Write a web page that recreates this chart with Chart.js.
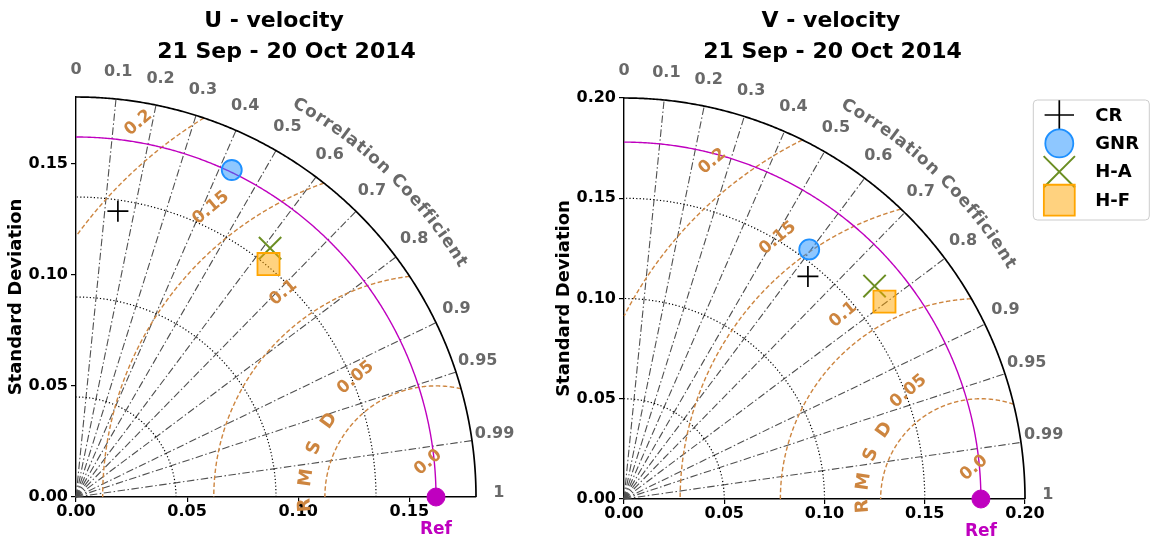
<!DOCTYPE html>
<html>
<head>
<meta charset="utf-8">
<script src="https://cdn.jsdelivr.net/npm/chart.js@4.4.1/dist/chart.umd.min.js"></script>
<style>
  html, body { margin: 0; padding: 0; background: #ffffff; width: 1151px; height: 542px; overflow: hidden; }
  canvas { position: absolute; top: 0; }
  #uChart { left: 0; }
  #vChart { left: 548px; }
</style>
</head>
<body>
<canvas id="uChart" width="548" height="542"></canvas>
<canvas id="vChart" width="603" height="542"></canvas>
<script>
// ---- data -------------------------------------------------------------
const modelNames = ['CR', 'GNR', 'H-A', 'H-F'];

// U velocity: standard deviation and correlation of each model against the reference
const uStd  = [0.130, 0.163, 0.142, 0.136];
const uCorr = [0.145, 0.430, 0.615, 0.637];
const uRefStd = 0.162;
const uStdMax = 0.18;
const uAxisTicks = [0.00, 0.05, 0.10, 0.15];
const uStdArcs = [0.045, 0.09, 0.135];

// V velocity
const vStd  = [0.144, 0.155, 0.164, 0.163];
const vCorr = [0.637, 0.596, 0.762, 0.797];
const vRefStd = 0.178;
const vStdMax = 0.20;
const vAxisTicks = [0.00, 0.05, 0.10, 0.15, 0.20];
const vStdArcs = [0.05, 0.10, 0.15];

// shared polar grid
const corrTicks = [0, 0.1, 0.2, 0.3, 0.4, 0.5, 0.6, 0.7, 0.8, 0.9, 0.95, 0.99, 1];
const corrRays  = [0.1, 0.2, 0.3, 0.4, 0.5, 0.6, 0.7, 0.8, 0.9, 0.95, 0.99];
const rmsdLevels = [0, 0.05, 0.10, 0.15, 0.20];

// ---- styles -----------------------------------------------------------
const FONT = "'DejaVu Sans', 'Liberation Sans', sans-serif";
Chart.defaults.font.family = FONT;

const markerStyles = {
  'CR':  { pointStyle: 'cross',    radius: 10.5, border: '#000000', fill: 'rgba(0,0,0,0)',        width: 1.7 },
  'GNR': { pointStyle: 'circle',   radius: 10,   border: '#1e90ff', fill: 'rgba(30,144,255,0.5)', width: 1.8 },
  'H-A': { pointStyle: 'crossRot', radius: 15.8, border: '#6b8e23', fill: 'rgba(0,0,0,0)',        width: 2 },
  'H-F': { pointStyle: 'rect',     radius: 15.6, border: '#ffa500', fill: 'rgba(255,165,0,0.5)',  width: 1.8 }
};
const REF_COLOR = '#bf00bf';
const RMSD_COLOR = '#cd853f';
const CORR_COLOR = '#696969';

function fmtLevel(v) { return v === 0 ? '0.0' : String(v); }

function drawMarker(ctx, st, x, y, scale) {
  const r = st.radius * scale;
  ctx.save();
  ctx.setLineDash([]);
  ctx.lineWidth = st.width;
  ctx.strokeStyle = st.border;
  ctx.fillStyle = st.fill;
  ctx.beginPath();
  if (st.pointStyle === 'circle') {
    ctx.arc(x, y, r, 0, Math.PI * 2);
    ctx.fill(); ctx.stroke();
  } else if (st.pointStyle === 'rect') {
    const s = r * Math.SQRT1_2;
    ctx.rect(x - s, y - s, 2 * s, 2 * s);
    ctx.fill(); ctx.stroke();
  } else if (st.pointStyle === 'cross') {
    ctx.moveTo(x, y - r); ctx.lineTo(x, y + r);
    ctx.moveTo(x - r, y); ctx.lineTo(x + r, y);
    ctx.stroke();
  } else if (st.pointStyle === 'crossRot') {
    const c = r * Math.SQRT1_2;
    ctx.moveTo(x - c, y - c); ctx.lineTo(x + c, y + c);
    ctx.moveTo(x - c, y + c); ctx.lineTo(x + c, y - c);
    ctx.stroke();
  }
  ctx.restore();
}

// Taylor-diagram furniture: correlation rays, std arcs, RMSD contours, labels
function makeTaylorPlugin(p) {
  return {
    id: 'taylor_' + p.key,
    beforeDatasetsDraw(chart) {
      const ctx = chart.ctx;
      const xs = chart.scales.x, ys = chart.scales.y;
      const P = (x, y) => [xs.getPixelForValue(x), ys.getPixelForValue(y)];
      const R = p.stdMax;

      const stroke = (pts, color, width, dash) => {
        ctx.save();
        ctx.strokeStyle = color;
        ctx.lineWidth = width;
        ctx.setLineDash(dash);
        ctx.beginPath();
        pts.forEach((q, i) => i ? ctx.lineTo(q[0], q[1]) : ctx.moveTo(q[0], q[1]));
        ctx.stroke();
        ctx.restore();
      };
      const arc = (r, n = 360) => Array.from({ length: n + 1 }, (_, k) => {
        const a = k / n * Math.PI / 2;
        return P(r * Math.cos(a), r * Math.sin(a));
      });

      // correlation rays
      corrRays.forEach(c => {
        const s = Math.sqrt(1 - c * c);
        stroke([P(0, 0), P(R * c, R * s)], '#505050', 1.1, [7.5, 2.5, 1.5, 2.5]);
      });

      // standard deviation arcs
      p.stdArcs.forEach(r => stroke(arc(r), '#000000', 1.2, [1.2, 2.2]));

      // centred RMS difference contours around the reference point
      rmsdLevels.filter(d => d > 0).forEach(d => {
        const segs = [];
        let cur = null;
        const n = 3000;
        for (let k = 0; k <= n; k++) {
          const f = k / n * Math.PI;
          const x = p.refStd + d * Math.cos(f), y = d * Math.sin(f);
          if (x >= 0 && Math.hypot(x, y) <= R) {
            if (!cur) { cur = []; segs.push(cur); }
            cur.push(P(x, y));
          } else cur = null;
        }
        segs.forEach(s => stroke(s, RMSD_COLOR, 1.4, [4.5, 2.5]));
      });

      // reference std arc and outer frame arc
      stroke(arc(p.refStd), REF_COLOR, 1.4, []);
      stroke(arc(R), '#000000', 1.7, []);

      ctx.save();
      ctx.textAlign = 'center';
      ctx.textBaseline = 'middle';

      // correlation tick labels
      ctx.fillStyle = CORR_COLOR;
      ctx.font = 'bold 16px ' + FONT;
      corrTicks.forEach(c => {
        const a = Math.acos(c);
        const [x, y] = P(1.057 * R * Math.cos(a), 1.057 * R * Math.sin(a));
        ctx.fillText(String(c), x, y - 4);
      });

      // curved axis caption
      const text = 'Correlation Coefficient';
      ctx.font = 'bold 17px ' + FONT;
      const chars = [...text];
      const ws = chars.map(ch => ctx.measureText(ch).width);
      const rc = 1.127 * R;
      const rp = P(rc, 0)[0] - P(0, 0)[0];
      const a0 = 60.3 * Math.PI / 180, a1 = 31.4 * Math.PI / 180;
      const centreSpan = ws.reduce((s, w) => s + w, 0) - (ws[0] + ws[ws.length - 1]) / 2;
      const k = (a0 - a1) * rp / centreSpan;
      let a = a0;
      chars.forEach((ch, i) => {
        if (i > 0) a -= (ws[i - 1] + ws[i]) / 2 * k / rp;
        const [x, y] = P(rc * Math.cos(a), rc * Math.sin(a));
        ctx.save();
        ctx.translate(x, y);
        ctx.rotate(Math.PI / 2 - a);
        ctx.fillText(ch, 0, 0);
        ctx.restore();
      });

      // RMSD contour labels
      ctx.fillStyle = RMSD_COLOR;
      ctx.font = 'bold 17px ' + FONT;
      rmsdLevels.forEach((v, i) => {
        const dx = -0.0035 - 0.0326 * i, dy = 0.0155 + 0.0382 * i;
        const [x, y] = P(p.refStd + dx, dy);
        ctx.save();
        ctx.translate(x, y);
        ctx.rotate(-40 * Math.PI / 180);
        ctx.fillText(fmtLevel(v), 0, 0);
        ctx.restore();
      });

      // "RMSD" letters along an arc around the reference
      ctx.font = 'bold 18px ' + FONT;
      const letterAngles = [183.5, 171.5, 158, 144.5];
      ['R', 'M', 'S', 'D'].forEach((ch, i) => {
        const t = letterAngles[i] * Math.PI / 180;
        const [x, y] = P(p.refStd + 0.059 * Math.cos(t), 0.059 * Math.sin(t));
        ctx.save();
        ctx.translate(x, y);
        ctx.rotate(Math.PI / 2 - t);
        ctx.fillText(ch, 0, 0);
        ctx.restore();
      });

      // reference label
      ctx.fillStyle = REF_COLOR;
      ctx.font = 'bold 17px ' + FONT;
      ctx.fillText('Ref', P(p.refStd, 0)[0], chart.chartArea.bottom + 33);
      ctx.restore();
    },
    afterDraw(chart) {
      const ctx = chart.ctx;
      ctx.save();
      // two-line title
      ctx.fillStyle = '#000000';
      ctx.font = 'bold 22px ' + FONT;
      ctx.textAlign = 'center';
      ctx.textBaseline = 'alphabetic';
      p.title.forEach(t => ctx.fillText(t.text, t.x, t.y));

      // legend box
      if (p.legend) {
        const L = p.legend;
        ctx.fillStyle = 'rgba(255,255,255,0.8)';
        ctx.strokeStyle = '#cccccc';
        ctx.lineWidth = 1;
        ctx.beginPath();
        if (ctx.roundRect) ctx.roundRect(L.x, L.y, L.w, L.h, 4); else ctx.rect(L.x, L.y, L.w, L.h);
        ctx.fill(); ctx.stroke();
        ctx.font = 'bold 18px ' + FONT;
        ctx.textAlign = 'left';
        ctx.textBaseline = 'middle';
        chart.data.datasets.filter(ds => markerStyles[ds.label]).forEach((ds, i) => {
          const y = L.y + 15 + i * 28.4;
          drawMarker(ctx, markerStyles[ds.label], L.x + 26, y, 1.4);
          ctx.fillStyle = '#000000';
          ctx.fillText(ds.label, L.x + 62, y + 1);
        });
      }
      ctx.restore();
    }
  };
}

function buildChart(p) {
  const toXY = (s, c) => ({ x: s * c, y: s * Math.sqrt(Math.max(0, 1 - c * c)) });
  const datasets = modelNames.map((name, i) => {
    const st = markerStyles[name];
    return {
      label: name,
      data: [toXY(p.std[i], p.corr[i])],
      pointStyle: st.pointStyle,
      pointRadius: st.radius,
      pointHoverRadius: st.radius,
      backgroundColor: st.fill,
      borderColor: st.border,
      pointBorderWidth: st.width,
      borderWidth: st.width,
      showLine: false,
      clip: false,
      order: modelNames.length - i
    };
  });
  datasets.push({
    label: 'Ref',
    data: [{ x: p.refStd, y: 0 }],
    pointStyle: 'circle',
    pointRadius: 9,
    pointHoverRadius: 9,
    backgroundColor: REF_COLOR,
    borderColor: REF_COLOR,
    pointBorderWidth: 1,
    showLine: false,
    clip: false,
    order: 10
  });

  const tickFont = { size: 16, weight: 'bold' };
  const axisCommon = (ticksArr) => ({
    type: 'linear',
    min: 0,
    max: p.stdMax,
    afterBuildTicks: s => { s.ticks = ticksArr.map(v => ({ value: v })); },
    ticks: {
      color: '#000000',
      font: tickFont,
      autoSkip: false,
      maxRotation: 0,
      includeBounds: false,
      callback: v => Number(v).toFixed(2)
    },
    grid: { display: true, drawOnChartArea: false, drawTicks: true, tickLength: 5, color: '#000000', lineWidth: 1.2 },
    border: { display: true, color: '#000000', width: 1.4 }
  });

  const xAxis = axisCommon(p.ticks);
  xAxis.afterFit = s => { s.height = 30; };
  xAxis.ticks.padding = 0;

  const yAxis = axisCommon(p.ticks);
  yAxis.afterFit = s => { s.width = 72; };
  yAxis.ticks.padding = 3;
  yAxis.title = {
    display: true,
    text: 'Standard Deviation',
    color: '#000000',
    font: { size: 18, weight: 'bold' },
    padding: { top: 2, bottom: 0 }
  };

  return new Chart(document.getElementById(p.canvas), {
    type: 'scatter',
    data: { datasets },
    options: {
      responsive: false,
      animation: false,
      devicePixelRatio: 1,
      events: [],
      layout: { padding: p.padding },
      plugins: { legend: { display: false }, tooltip: { enabled: false } },
      scales: { x: xAxis, y: yAxis }
    },
    plugins: [makeTaylorPlugin(p)]
  });
}

buildChart({
  key: 'u', canvas: 'uChart',
  std: uStd, corr: uCorr, refStd: uRefStd, stdMax: uStdMax,
  ticks: uAxisTicks, stdArcs: uStdArcs,
  padding: { left: 4, top: 97, right: 72, bottom: 15 },
  title: [
    { text: 'U - velocity', x: 274, y: 27 },
    { text: '21 Sep - 20 Oct 2014', x: 286.5, y: 58 }
  ],
  legend: null
});

buildChart({
  key: 'v', canvas: 'vChart',
  std: vStd, corr: vCorr, refStd: vRefStd, stdMax: vStdMax,
  ticks: vAxisTicks, stdArcs: vStdArcs,
  padding: { left: 4, top: 98, right: 126, bottom: 13 },
  title: [
    { text: 'V - velocity', x: 283, y: 27 },
    { text: '21 Sep - 20 Oct 2014', x: 284.5, y: 58 }
  ],
  legend: { x: 485.3, y: 100, w: 116, h: 120 }
});
</script>
</body>
</html>
